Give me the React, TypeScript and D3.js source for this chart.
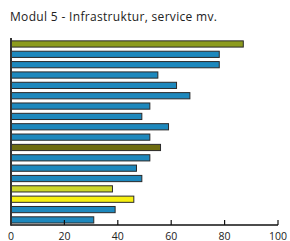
import React from "react";
import * as d3 from "d3";

const title = "Modul 5 - Infrastruktur, service mv.";
const values = [87, 78, 78, 55, 62, 67, 52, 49, 59, 52, 56, 52, 47, 49, 38, 46, 39, 31];
const colors = [
  "#8c9b1e", "#1d88bd", "#1d88bd", "#1d88bd", "#1d88bd", "#1d88bd",
  "#1d88bd", "#1d88bd", "#1d88bd", "#1d88bd", "#6e6c10", "#1d88bd",
  "#1d88bd", "#1d88bd", "#ccd62c", "#f7f011", "#1d88bd", "#1d88bd",
];
const ticks = [0, 20, 40, 60, 80, 100];

export default function App() {
  const ref = React.useRef<SVGSVGElement>(null);
  const width = 290;
  const height = 241;

  React.useEffect(() => {
    const svg = d3.select(ref.current);
    svg.selectAll("*").remove();

    const x = d3.scaleLinear().domain([0, 100]).range([11, 278]);
    const y = d3
      .scaleBand<number>()
      .domain(d3.range(values.length))
      .range([38.8, 225.1])
      .paddingInner(0.4)
      .paddingOuter(0.2);

    svg
      .append("text")
      .attr("x", 10)
      .attr("y", 21)
      .attr("font-family", "'Open Sans', sans-serif")
      .attr("font-size", 12)
      .attr("fill", "#222")
      .attr("textLength", 207)
      .text(title);

    svg
      .append("g")
      .selectAll("rect")
      .data(values)
      .join("rect")
      .attr("x", x(0))
      .attr("y", (_, i) => y(i)!)
      .attr("width", (d) => x(d) - x(0))
      .attr("height", y.bandwidth())
      .attr("fill", (_, i) => colors[i])
      .attr("stroke", "#2a2a2a")
      .attr("stroke-width", 1);

    const axis = svg.append("g").attr("transform", "translate(0,225)");
    axis
      .append("line")
      .attr("x1", x(0))
      .attr("x2", x(100))
      .attr("stroke", "#111")
      .attr("stroke-width", 1.5);
    axis
      .selectAll("line.tick")
      .data(ticks)
      .join("line")
      .attr("class", "tick")
      .attr("x1", (d) => x(d))
      .attr("x2", (d) => x(d))
      .attr("y1", 0)
      .attr("y2", -5)
      .attr("stroke", "#111")
      .attr("stroke-width", 1.2);
    axis
      .selectAll("text")
      .data(ticks)
      .join("text")
      .attr("x", (d) => x(d))
      .attr("y", 14.5)
      .attr("text-anchor", "middle")
      .attr("font-family", "'Open Sans', sans-serif")
      .attr("font-size", 10.5)
      .attr("fill", "#222")
      .text((d) => d);

    svg
      .append("line")
      .attr("x1", x(0))
      .attr("x2", x(0))
      .attr("y1", 38)
      .attr("y2", 225.7)
      .attr("stroke", "#333")
      .attr("stroke-width", 2);
  }, []);

  return (
    <svg
      ref={ref}
      width={width}
      height={height}
      style={{ position: "absolute", left: 0, top: 0, background: "#fff" }}
    />
  );
}
